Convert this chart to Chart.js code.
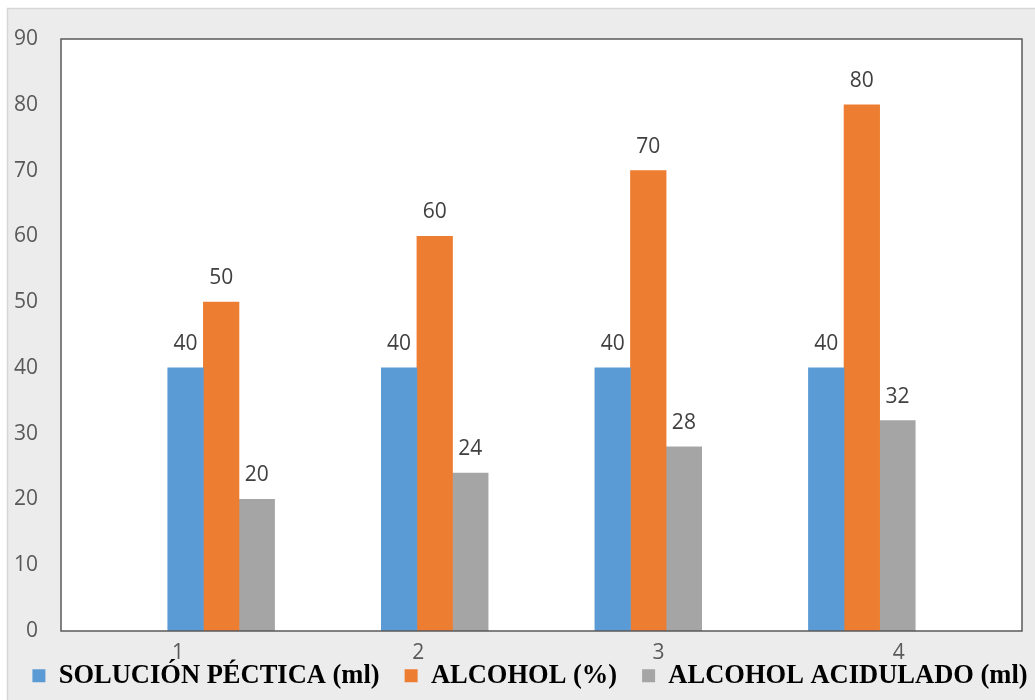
<!DOCTYPE html>
<html>
<head>
<meta charset="utf-8">
<script src="https://cdn.jsdelivr.net/npm/chart.js@4"></script>
<style>
  html, body { margin: 0; padding: 0; background: #fff; overflow: hidden; }
  #wrap { width: 1035px; height: 700px; }
</style>
</head>
<body>
<div id="wrap"><canvas id="myChart" width="1035" height="700"></canvas></div>
<script>
// values
const categories = [1, 2, 3, 4];
const tickLabels = ['1', '2', '3', '4'];
const solucionPectica = [40, 40, 40, 40];
const alcohol = [50, 60, 70, 80];
const alcoholAcidulado = [20, 24, 28, 32];

const seriesNames = ['SOLUCIÓN PÉCTICA (ml)', 'ALCOHOL (%)', 'ALCOHOL ACIDULADO (ml)'];
const seriesColors = ['#5b9bd5', '#ed7d31', '#a5a5a5'];

function points(values) {
  return categories.map((c, i) => ({ x: c, y: values[i] }));
}

// grey frame + white plot box with dark border
const frame = {
  id: 'frame',
  beforeDraw(chart) {
    const ctx = chart.ctx;
    const a = chart.chartArea;
    ctx.save();
    ctx.fillStyle = '#ececec';
    ctx.fillRect(7, 8, chart.width, chart.height);
    ctx.strokeStyle = '#d6d6d6';
    ctx.lineWidth = 1.5;
    ctx.strokeRect(7.5, 8.5, chart.width + 10, chart.height + 10);
    ctx.fillStyle = '#ffffff';
    ctx.fillRect(a.left, a.top, a.right - a.left, a.bottom - a.top);
    ctx.restore();
  },
  afterDatasetsDraw(chart) {
    const ctx = chart.ctx;
    const a = chart.chartArea;
    ctx.save();
    ctx.strokeStyle = '#595959';
    ctx.lineWidth = 1.5;
    ctx.strokeRect(a.left, a.top, a.right - a.left, a.bottom - a.top);
    ctx.restore();
  }
};

// value labels above the bars
const valueLabels = {
  id: 'valueLabels',
  afterDatasetsDraw(chart) {
    const ctx = chart.ctx;
    ctx.save();
    ctx.font = '21px "Open Sans"';
    ctx.fillStyle = '#404040';
    ctx.textAlign = 'center';
    ctx.textBaseline = 'alphabetic';
    chart.data.datasets.forEach((ds, di) => {
      chart.getDatasetMeta(di).data.forEach((bar, i) => {
        ctx.fillText(String(ds.data[i].y), bar.x, bar.y - 18);
      });
    });
    ctx.restore();
  }
};

// category labels, placed by the xl scale (its own labels get clipped by the tight box)
const categoryLabels = {
  id: 'categoryLabels',
  afterDraw(chart) {
    const s = chart.scales.xl;
    const ctx = chart.ctx;
    ctx.save();
    ctx.font = '21px "Open Sans"';
    ctx.fillStyle = '#595959';
    ctx.textAlign = 'center';
    ctx.textBaseline = 'middle';
    s.ticks.forEach((t, i) => {
      ctx.fillText(s.getLabelForValue(t.value), s.getPixelForTick(i) - 3, s.top + 22);
    });
    ctx.restore();
  }
};

const ctx = document.getElementById('myChart');
const myChart = new Chart(ctx, {
  type: 'bar',
  data: {
    datasets: [
      { label: seriesNames[0], data: points(solucionPectica), backgroundColor: seriesColors[0] },
      { label: seriesNames[1], data: points(alcohol), backgroundColor: seriesColors[1] },
      { label: seriesNames[2], data: points(alcoholAcidulado), backgroundColor: seriesColors[2] }
    ]
  },
  options: {
    responsive: false,
    animation: false,
    devicePixelRatio: 1,
    barThickness: 35.6,
    layout: { padding: { top: 39, right: -25, bottom: 1, left: 0 } },
    scales: {
      x: {
        type: 'linear',
        display: false,
        offset: false,
        min: 0.25,
        max: 4.75
      },
      xl: {
        type: 'category',
        position: 'bottom',
        labels: tickLabels,
        offset: true,
        grid: { display: false, drawTicks: false },
        border: { display: false },
        ticks: { display: false },
        afterFit(scale) { scale.height = 6.5; }
      },
      y: {
        min: 0,
        max: 90,
        grid: { display: false, drawTicks: false },
        border: { display: false },
        ticks: { stepSize: 10, color: '#595959', padding: 23, font: { family: 'Open Sans', size: 21 } },
        afterFit(scale) { scale.width = 61; }
      },
      yr: {
        type: 'linear',
        position: 'right',
        grid: { display: false, drawTicks: false },
        border: { display: false },
        ticks: { display: false },
        afterFit(scale) { scale.width = 38; }
      }
    },
    plugins: {
      tooltip: { enabled: false },
      legend: {
        position: 'bottom',
        labels: {
          boxWidth: 13,
          boxHeight: 13,
          padding: 25,
          color: '#000000',
          font: { family: 'Liberation Serif', size: 26.5, weight: 'bold' }
        }
      }
    }
  },
  plugins: [frame, valueLabels, categoryLabels]
});
</script>
</body>
</html>
